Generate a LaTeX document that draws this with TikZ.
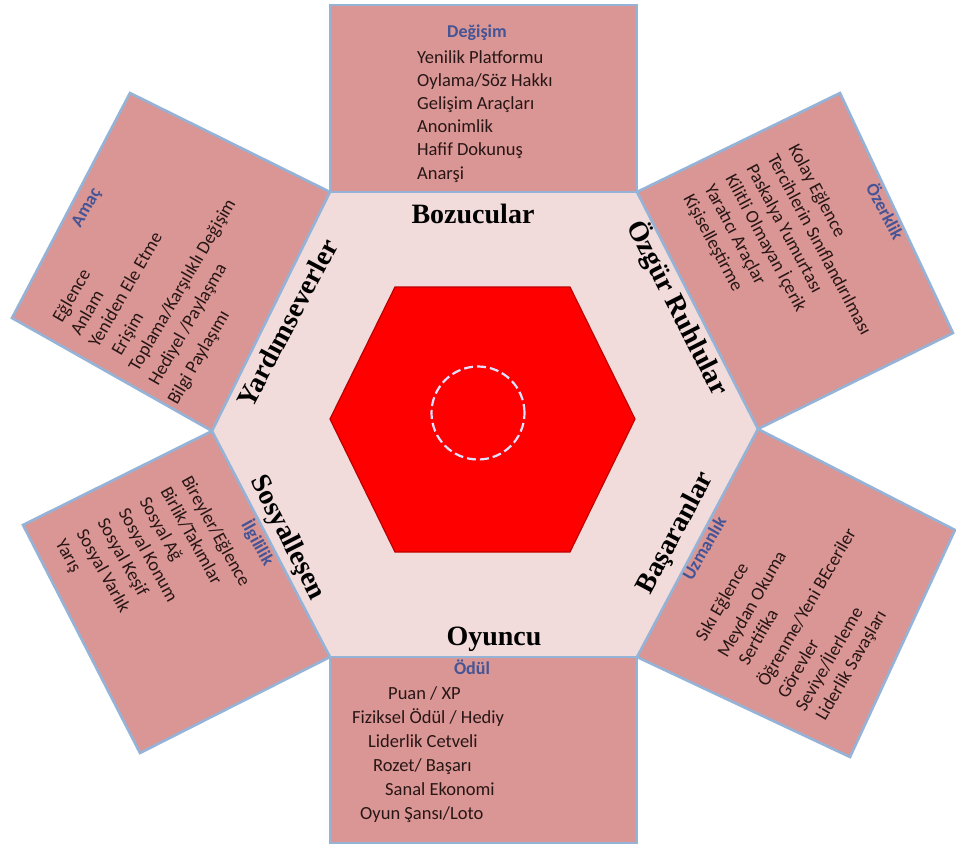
\documentclass[tikz,border=0pt]{standalone}
\usepackage{fontspec}
\setmainfont{Carlito}
\newfontfamily\lblfont{Liberation Serif}
\definecolor{boxfill}{RGB}{217,150,148}
\definecolor{boxline}{RGB}{149,179,215}
\definecolor{hexfill}{RGB}{242,220,219}
\definecolor{titleblue}{RGB}{68,84,150}
\definecolor{itemtext}{RGB}{40,22,22}
\definecolor{redline}{RGB}{190,0,0}
\begin{document}
\begin{tikzpicture}[x=1pt,y=-1pt,
  panel/.style={fill=boxfill,draw=boxline,line width=2.6pt,line join=miter},
  item/.style={inner sep=0pt,text=itemtext,font=\fontsize{18.5}{22}\selectfont},
  ttl/.style={inner sep=0pt,text=titleblue,font=\fontsize{18}{20}\selectfont\bfseries},
  lab/.style={inner sep=0pt,text=black,font=\lblfont\bfseries\fontsize{28}{30}\selectfont}]
\useasboundingbox (0,0) rectangle (956,848);
\fill[white] (0,0) rectangle (956,848);
% hexagon vertices
\coordinate (A) at (330,192);
\coordinate (B) at (637,192);
\coordinate (C) at (758,429);
\coordinate (D) at (637,657);
\coordinate (E) at (330,657);
\coordinate (F) at (212,431);
\fill[hexfill] (A)--(B)--(C)--(D)--(E)--(F)--cycle;
% panels
\draw[panel] (330,5) -- (637,5) -- (B) -- (A) -- cycle;
\draw[panel] (B) -- (840,93) -- (953,333) -- (C) -- cycle;
\draw[panel] (C) -- (955,530) -- (850,757) -- (D) -- cycle;
\draw[panel] (E) -- (D) -- (637,843) -- (330,843) -- cycle;
\draw[panel] (F) -- (E) -- (140,753) -- (23,525) -- cycle;
\draw[panel] (A) -- (F) -- (12,318) -- (130,93) -- cycle;
% red hexagon
\filldraw[fill=red,draw=redline,line width=1.2pt] (395,287) -- (570,287) -- (635,419) -- (570,552) -- (395,552) -- (330,419) -- cycle;
\draw[white!88!blue,line width=2.2pt,dash pattern=on 9pt off 4pt] (478,413) circle (46.5pt);
% top panel
\node[ttl,anchor=base] (t0) at (477,38) {Değişim};
\node[item,anchor=base west] (t1) at (417,64) {Yenilik Platformu};
\node[item,anchor=base west] (t2) at (417,87) {Oylama/Söz Hakkı};
\node[item,anchor=base west] (t3) at (417,110) {Gelişim Araçları};
\node[item,anchor=base west] (t4) at (417,133) {Anonimlik};
\node[item,anchor=base west] (t5) at (417,156) {Hafif Dokunuş};
\node[item,anchor=base west] (t6) at (417,179) {Anarşi};
% bottom panel
\node[ttl,anchor=base] (b0) at (472,674) {Ödül};
\node[item,anchor=base west] (b1) at (388,699) {Puan / XP};
\node[item,anchor=base west] (b2) at (352,723) {Fiziksel Ödül / Hediy};
\node[item,anchor=base west] (b3) at (368,747) {Liderlik Cetveli};
\node[item,anchor=base west] (b4) at (373,771) {Rozet/ Başarı};
\node[item,anchor=base west] (b5) at (385,795) {Sanal Ekonomi};
\node[item,anchor=base west] (b6) at (360,819) {Oyun Şansı/Loto};
% Amac panel
\node[ttl,rotate=60] (a0) at (87,208) {Amaç};
\node[item,rotate=60,anchor=base west] (a1) at (62,324) {Eğlence};
\node[item,rotate=60,anchor=base west] (a2) at (80,337) {Anlam};
\node[item,rotate=60,anchor=base west] (a3) at (98,349) {Yeniden Ele Etme};
\node[item,rotate=60,anchor=base west] (a4) at (121,357) {Erişim};
\node[item,rotate=60,anchor=base west] (a5) at (138,373) {Toplama/Karşılıklı Değişim};
\node[item,rotate=60,anchor=base west] (a6) at (158,387) {Hediyel /Paylaşma};
\node[item,rotate=60,anchor=base west] (a7) at (177,406) {Bilgi Paylaşımı};
% Ozerklik panel
\node[ttl,rotate=-62] (o0) at (886,211) {Özerklik};
\node[item,rotate=-62,anchor=base west] (o1) at (788,148) {Kolay Eğlence};
\node[item,rotate=-62,anchor=base west] (o2) at (767,158) {Tercihlerin Sınıflandırılması};
\node[item,rotate=-62,anchor=base west] (o3) at (746,168) {Paskalya Yumurtası};
\node[item,rotate=-62,anchor=base west] (o4) at (725,178) {Kilitli Olmayan İçerik};
\node[item,rotate=-62,anchor=base west] (o5) at (704,188) {Yaratıcı Araçlar};
\node[item,rotate=-62,anchor=base west] (o6) at (683,198) {Kişiselleştirme};
% Ilgililik panel
\node[ttl,rotate=-61] (i0) at (258,543) {İlgililik};
\node[item,rotate=-61,anchor=base west] (i1) at (181,480) {Bireyler/Eğlence};
\node[item,rotate=-61,anchor=base west] (i2) at (160,491) {Birlik/Takımlar};
\node[item,rotate=-61,anchor=base west] (i3) at (139,501) {Sosyal Ağ};
\node[item,rotate=-61,anchor=base west] (i4) at (118,512) {Sosyal Konum};
\node[item,rotate=-61,anchor=base west] (i5) at (97,522) {Sosyal Keşif};
\node[item,rotate=-61,anchor=base west] (i6) at (76,533) {Sosyal Varlık};
\node[item,rotate=-61,anchor=base west] (i7) at (55,543) {Yarış};
% Uzmanlik panel
\node[ttl,rotate=60] (u0) at (704,548) {Uzmanlık};
\node[item,rotate=60,anchor=base west] (u1) at (705,643) {Sıkı Eğlence};
\node[item,rotate=60,anchor=base west] (u2) at (727,659) {Meydan Okuma};
\node[item,rotate=60,anchor=base west] (u3) at (748,667) {Sertifika};
\node[item,rotate=60,anchor=base west] (u4) at (767,688) {Öğrenme/Yeni BEceriler};
\node[item,rotate=60,anchor=base west] (u5) at (787,700) {Görevler};
\node[item,rotate=60,anchor=base west] (u6) at (805,713) {Seviye/İlerleme};
\node[item,rotate=60,anchor=base west] (u7) at (825,722) {Liderlik Savaşları};
% hexagon labels
\node[lab,anchor=base] (l1) at (473,223) {Bozucular};
\node[lab,anchor=base] (l2) at (494,645) {Oyuncu};
\node[lab,rotate=62] (l3) at (287,323) {Yardımseverler};
\node[lab,rotate=-63] (l4) at (287,538) {Sosyalleşen};
\node[lab,rotate=-63] (l5) at (678,308) {Özgür Ruhlular};
\node[lab,rotate=62] (l6) at (676,533) {Başaranlar};
\end{tikzpicture}
\end{document}
